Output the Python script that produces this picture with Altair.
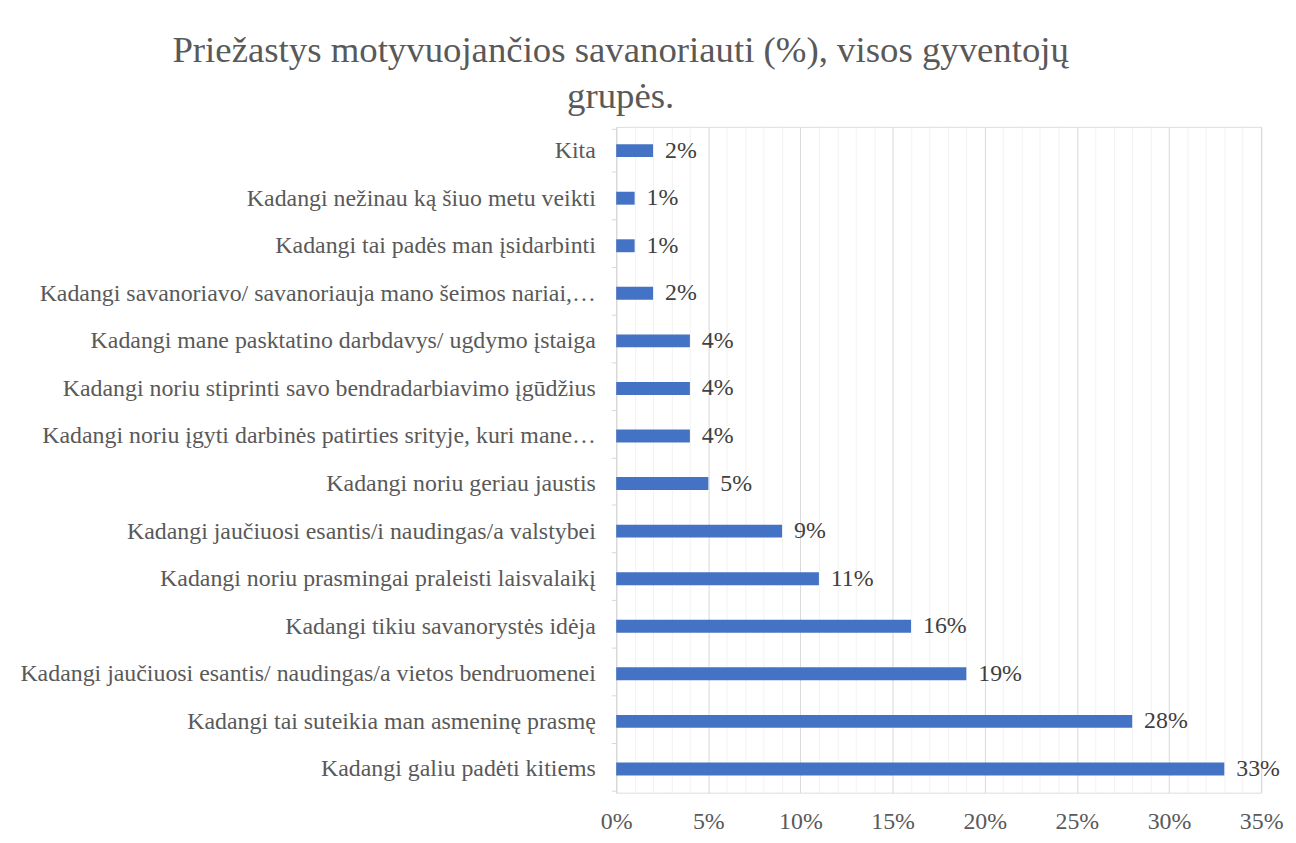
import altair as alt
import pandas as pd

categories = [
    "Kita",
    "Kadangi nežinau ką šiuo metu veikti",
    "Kadangi tai padės man įsidarbinti",
    "Kadangi savanoriavo/ savanoriauja mano šeimos nariai,…",
    "Kadangi mane pasktatino darbdavys/ ugdymo įstaiga",
    "Kadangi noriu stiprinti savo bendradarbiavimo įgūdžius",
    "Kadangi noriu įgyti darbinės patirties srityje, kuri mane…",
    "Kadangi noriu geriau jaustis",
    "Kadangi jaučiuosi esantis/i naudingas/a valstybei",
    "Kadangi noriu prasmingai praleisti laisvalaikį",
    "Kadangi tikiu savanorystės idėja",
    "Kadangi jaučiuosi esantis/ naudingas/a vietos bendruomenei",
    "Kadangi tai suteikia man asmeninę prasmę",
    "Kadangi galiu padėti kitiems",
]
values = [2, 1, 1, 2, 4, 4, 4, 5, 9, 11, 16, 19, 28, 33]
tick_values = list(range(0, 36))

df = pd.DataFrame({"cat": categories, "val": values})
df["lbl"] = df["val"].astype(str) + "%"

FONT = "Liberation Serif"
GRAY = "#595959"
FS = 24

x_enc = alt.X(
    "val:Q",
    scale=alt.Scale(domain=[0, 35], nice=False),
    axis=alt.Axis(
        values=tick_values,
        labelExpr="datum.value % 5 === 0 ? datum.value + '%' : ''",
        labelOverlap=False,
        title=None,
        domain=False,
        ticks=False,
        grid=True,
        gridColor={"condition": {"test": "datum.value % 5 === 0", "value": "#D9D9D9"}, "value": "#F2F2F2"},
        labelFont=FONT,
        labelFontSize=FS,
        labelColor=GRAY,
        labelPadding=17,
        labelFlush=False,
    ),
)
y_enc = alt.Y(
    "cat:N",
    sort=categories,
    axis=alt.Axis(
        title=None,
        domainColor="#D9D9D9",
        tickColor="#D9D9D9",
        tickSize=5,
        tickBand="extent",
        labelFont=FONT,
        labelFontSize=FS,
        labelColor=GRAY,
        labelPadding=16,
        labelLimit=800,
        grid=False,
    ),
)

base = alt.Chart(df).encode(x=x_enc, y=y_enc)
bars = base.mark_bar(color="#4472C4", size=13)
labels = base.mark_text(
    align="left", baseline="middle", dx=12, font=FONT, fontSize=FS, color="#404040"
).encode(text="lbl:N")

chart = (
    alt.layer(bars, labels)
    .properties(
        width=649,
        height=670,
        padding={"left": 11, "top": 22, "right": 5, "bottom": 5},
        title=alt.TitleParams(
            text=["Priežastys motyvuojančios savanoriauti (%), visos gyventojų", "grupės."],
            font=FONT,
            fontSize=37,
            fontWeight="normal",
            color=GRAY,
            anchor="middle",
            dx=-320,
            lineHeight=46,
            offset=-1,
        ),
    )
    .configure_view(stroke=None)
    .configure(background="white")
)

chart.save("out.html", embed_options={"renderer": "svg", "actions": False})
